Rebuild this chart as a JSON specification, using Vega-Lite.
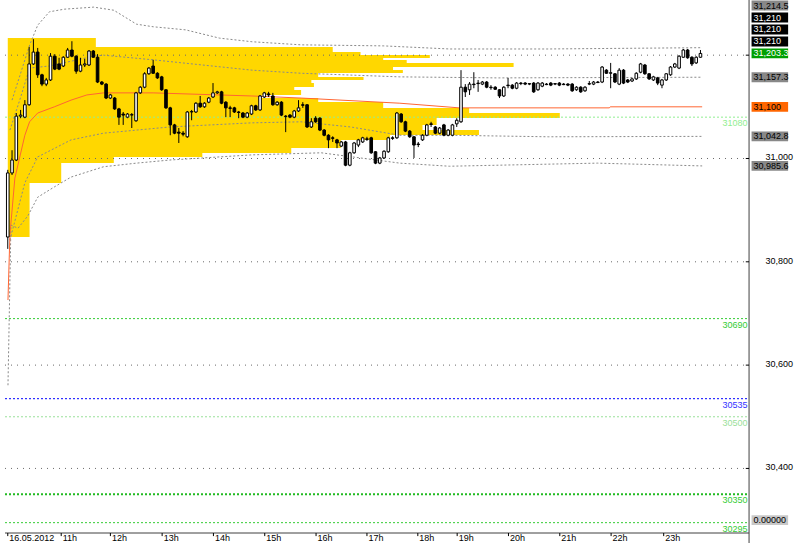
{
"$schema": "https://vega.github.io/schema/vega-lite/v6.json",
"width": 800, "height": 533,
"autosize": {"type": "none"},
"padding": {"left": 0, "top": 0, "right": 0, "bottom": 10},
"background": "#ffffff",
"config": {"view": {"stroke": null}, "text": {"font": "Liberation Sans"}},
"datasets": {
"profile": [
{"hi":31233.2,"lo":31215.8,"vol":20.6},{"hi":31215.8,"lo":31206.1,"vol":76.0},{"hi":31206.1,"lo":31200.3,"vol":82.5},
{"hi":31200.3,"lo":31194.5,"vol":98.7},{"hi":31194.5,"lo":31190.6,"vol":87.8},{"hi":31190.6,"lo":31184.8,"vol":93.3},
{"hi":31184.8,"lo":31177.1,"vol":118.3},{"hi":31177.1,"lo":31171.3,"vol":90.1},{"hi":31171.3,"lo":31165.5,"vol":92.4},
{"hi":31165.5,"lo":31157.7,"vol":72.6},{"hi":31157.7,"lo":31151.9,"vol":83.2},{"hi":31151.9,"lo":31146.1,"vol":71.0},
{"hi":31146.1,"lo":31138.4,"vol":71.6},{"hi":31138.4,"lo":31132.6,"vol":67.0},{"hi":31132.6,"lo":31122.9,"vol":68.6},
{"hi":31122.9,"lo":31117.1,"vol":59.4},{"hi":31117.1,"lo":31109.3,"vol":72.6},{"hi":31109.3,"lo":31097.7,"vol":87.8},
{"hi":31097.7,"lo":31088.0,"vol":107.9},{"hi":31088.0,"lo":31078.4,"vol":129.1},{"hi":31078.4,"lo":31064.8,"vol":100.3},
{"hi":31064.8,"lo":31055.1,"vol":97.0},{"hi":31055.1,"lo":31045.4,"vol":110.2},{"hi":31045.4,"lo":31035.8,"vol":89.4},
{"hi":31035.8,"lo":31020.3,"vol":77.9},{"hi":31020.3,"lo":31010.6,"vol":66.3},{"hi":31010.6,"lo":31002.9,"vol":45.5},
{"hi":31002.9,"lo":30991.2,"vol":24.8},{"hi":30991.2,"lo":30952.5,"vol":12.5},{"hi":30952.5,"lo":30848.0,"vol":5.1}
],
"grid": [{"v":31200},{"v":31000},{"v":30800},{"v":30600},{"v":30400}],
"levels": [{"name":"31080","v":31080},{"name":"30690","v":30690},{"name":"30535","v":30535},{"name":"30500","v":30500},{"name":"30350","v":30350},{"name":"30295","v":30295}],
"xticks": [{"k":0,"label":"16.05.2012"},{"k":12.5,"label":"11h"},{"k":24,"label":"12h"},{"k":36.1,"label":"13h"},{"k":48.1,"label":"14h"},{"k":60.1,"label":"15h"},{"k":72.1,"label":"16h"},{"k":84,"label":"17h"},{"k":95.9,"label":"18h"},{"k":105.1,"label":"19h"},{"k":117.1,"label":"20h"},{"k":129.1,"label":"21h"},{"k":141.1,"label":"22h"},{"k":153.4,"label":"23h"}],
"bands": [
{"band":"uo","k":1,"p":31113},{"band":"uo","k":5.13,"p":31220},{"band":"uo","k":7,"p":31258},{"band":"uo","k":9.75,"p":31284},{"band":"uo","k":13.2,"p":31289},{"band":"uo","k":20.1,"p":31293},{"band":"uo","k":24.8,"p":31287},{"band":"uo","k":30.1,"p":31260},{"band":"uo","k":34,"p":31255},{"band":"uo","k":41.6,"p":31249},{"band":"uo","k":49.5,"p":31233},{"band":"uo","k":57.1,"p":31226},{"band":"uo","k":68.6,"p":31220},{"band":"uo","k":87.8,"p":31218},{"band":"uo","k":103.3,"p":31212},{"band":"uo","k":126.4,"p":31212},{"band":"uo","k":162.4,"p":31214.5},
{"band":"ui","k":0.5,"p":31055},{"band":"ui","k":2.8,"p":31113},{"band":"ui","k":5.1,"p":31175},{"band":"ui","k":9.7,"p":31179},{"band":"ui","k":20.1,"p":31198},{"band":"ui","k":22.4,"p":31200},{"band":"ui","k":34,"p":31191},{"band":"ui","k":45.5,"p":31181},{"band":"ui","k":57.1,"p":31171},{"band":"ui","k":68.6,"p":31165},{"band":"ui","k":91.7,"p":31158},{"band":"ui","k":114.8,"p":31156},{"band":"ui","k":162.4,"p":31157.3},
{"band":"li","k":0.5,"p":30842},{"band":"li","k":4,"p":30953},{"band":"li","k":7,"p":31003},{"band":"li","k":14.8,"p":31036},{"band":"li","k":22.4,"p":31049},{"band":"li","k":37.9,"p":31061},{"band":"li","k":57.1,"p":31069},{"band":"li","k":68.6,"p":31071},{"band":"li","k":80.2,"p":31061},{"band":"li","k":91.7,"p":31045},{"band":"li","k":103.3,"p":31045},{"band":"li","k":126.4,"p":31042},{"band":"li","k":162.4,"p":31042.8},
{"band":"lo","k":0.05,"p":30561},{"band":"lo","k":0.74,"p":30871},{"band":"lo","k":2.4,"p":30865},{"band":"lo","k":4.7,"p":30889},{"band":"lo","k":7,"p":30925},{"band":"lo","k":10.9,"p":30945},{"band":"lo","k":14.8,"p":30964},{"band":"lo","k":22.4,"p":30984},{"band":"lo","k":30.1,"p":30991},{"band":"lo","k":37.9,"p":30997},{"band":"lo","k":57.1,"p":31007},{"band":"lo","k":73.3,"p":31011},{"band":"lo","k":82.5,"p":31001},{"band":"lo","k":91.7,"p":30991},{"band":"lo","k":103.3,"p":30985},{"band":"lo","k":114.8,"p":30987},{"band":"lo","k":137.9,"p":30991},{"band":"lo","k":162.4,"p":30985.6}
],
"mid": [
{"k":0.05,"p":30726},{"k":0.5,"p":30852},{"k":1.66,"p":30962},{"k":4,"p":31045},{"k":5.1,"p":31071},{"k":7,"p":31088},{"k":10.9,"p":31100},{"k":14.8,"p":31113},{"k":18.5,"p":31123},{"k":22.4,"p":31127},{"k":34,"p":31127},{"k":57.1,"p":31121},{"k":68.6,"p":31117},{"k":91.7,"p":31107},{"k":105.6,"p":31098},{"k":140.7,"p":31098},{"k":140.9,"p":31100},{"k":162.4,"p":31100}
],
"tags": [
{"label":"31,214.5","value":31214.5,"kind":"band","slot":4},
{"label":"31,210","value":31210,"kind":"level","slot":3},
{"label":"31,210","value":31210,"kind":"level","slot":2},
{"label":"31,210","value":31210,"kind":"level","slot":1},
{"label":"31,203.3","value":31203.3,"kind":"last","slot":0},
{"label":"31,157.3","value":31157.3,"kind":"band","slot":0},
{"label":"31,100","value":31100,"kind":"mid","slot":0},
{"label":"31,042.8","value":31042.8,"kind":"band","slot":0},
{"label":"30,985.6","value":30985.6,"kind":"band","slot":0},
{"label":"0.00000","value":0,"kind":"ind","slot":-1}
],
"candles": [
{"k":0,"o":30848,"h":30978,"l":30825,"c":30972},
{"k":1,"o":30972,"h":31016,"l":30968,"c":30997},
{"k":2,"o":30997,"h":31088,"l":30995,"c":31082},
{"k":3,"o":31082,"h":31094,"l":31078,"c":31084},
{"k":4,"o":31080,"h":31113,"l":31078,"c":31104},
{"k":5,"o":31104,"h":31216,"l":31102,"c":31183},
{"k":6,"o":31183,"h":31231,"l":31181,"c":31206},
{"k":7,"o":31206,"h":31214,"l":31156,"c":31162},
{"k":8,"o":31162,"h":31164,"l":31140,"c":31144},
{"k":9,"o":31144,"h":31156,"l":31140,"c":31152},
{"k":10,"o":31152,"h":31204,"l":31150,"c":31198},
{"k":11,"o":31198,"h":31202,"l":31171,"c":31173},
{"k":12,"o":31183,"h":31195,"l":31171,"c":31173},
{"k":13,"o":31179,"h":31198,"l":31177,"c":31196},
{"k":14,"o":31196,"h":31214,"l":31195,"c":31210},
{"k":15,"o":31210,"h":31227,"l":31196,"c":31198},
{"k":16,"o":31198,"h":31200,"l":31164,"c":31169},
{"k":17,"o":31169,"h":31195,"l":31167,"c":31181},
{"k":18,"o":31181,"h":31193,"l":31177,"c":31183},
{"k":19,"o":31181,"h":31210,"l":31179,"c":31208},
{"k":20,"o":31208,"h":31210,"l":31195,"c":31196},
{"k":21,"o":31196,"h":31202,"l":31146,"c":31148},
{"k":22,"o":31148,"h":31150,"l":31142,"c":31144},
{"k":23,"o":31144,"h":31146,"l":31115,"c":31117},
{"k":24,"o":31117,"h":31125,"l":31115,"c":31123},
{"k":25,"o":31117,"h":31119,"l":31094,"c":31096},
{"k":26,"o":31096,"h":31098,"l":31065,"c":31080},
{"k":27,"o":31086,"h":31090,"l":31065,"c":31084},
{"k":28,"o":31080,"h":31088,"l":31078,"c":31086},
{"k":29,"o":31084,"h":31088,"l":31059,"c":31085},
{"k":30,"o":31073,"h":31129,"l":31071,"c":31127},
{"k":31,"o":31127,"h":31140,"l":31125,"c":31138},
{"k":32,"o":31138,"h":31167,"l":31136,"c":31164},
{"k":33,"o":31164,"h":31177,"l":31162,"c":31175},
{"k":34,"o":31179,"h":31191,"l":31164,"c":31165},
{"k":35,"o":31165,"h":31167,"l":31154,"c":31156},
{"k":36,"o":31158,"h":31160,"l":31131,"c":31133},
{"k":37,"o":31133,"h":31134,"l":31096,"c":31098},
{"k":38,"o":31098,"h":31100,"l":31045,"c":31065},
{"k":39,"o":31065,"h":31067,"l":31047,"c":31049},
{"k":40,"o":31051,"h":31059,"l":31030,"c":31049},
{"k":41,"o":31049,"h":31053,"l":31043,"c":31047},
{"k":42,"o":31042,"h":31092,"l":31040,"c":31090},
{"k":43,"o":31090,"h":31094,"l":31074,"c":31091},
{"k":44,"o":31090,"h":31109,"l":31088,"c":31107},
{"k":45,"o":31107,"h":31121,"l":31098,"c":31100},
{"k":46,"o":31100,"h":31109,"l":31098,"c":31107},
{"k":47,"o":31109,"h":31119,"l":31107,"c":31117},
{"k":48,"o":31119,"h":31146,"l":31117,"c":31127},
{"k":49,"o":31127,"h":31131,"l":31125,"c":31129},
{"k":50,"o":31129,"h":31131,"l":31105,"c":31107},
{"k":51,"o":31109,"h":31111,"l":31080,"c":31098},
{"k":52,"o":31098,"h":31102,"l":31080,"c":31097},
{"k":53,"o":31098,"h":31100,"l":31088,"c":31090},
{"k":54,"o":31090,"h":31092,"l":31078,"c":31089},
{"k":55,"o":31088,"h":31090,"l":31078,"c":31080},
{"k":56,"o":31080,"h":31090,"l":31078,"c":31088},
{"k":57,"o":31086,"h":31104,"l":31084,"c":31102},
{"k":58,"o":31102,"h":31104,"l":31092,"c":31094},
{"k":59,"o":31094,"h":31123,"l":31092,"c":31121},
{"k":60,"o":31119,"h":31129,"l":31117,"c":31127},
{"k":61,"o":31125,"h":31129,"l":31119,"c":31123},
{"k":62,"o":31121,"h":31127,"l":31102,"c":31104},
{"k":63,"o":31104,"h":31111,"l":31102,"c":31109},
{"k":64,"o":31109,"h":31111,"l":31082,"c":31084},
{"k":65,"o":31082,"h":31084,"l":31051,"c":31081},
{"k":66,"o":31084,"h":31086,"l":31078,"c":31080},
{"k":67,"o":31080,"h":31094,"l":31078,"c":31092},
{"k":68,"o":31092,"h":31113,"l":31090,"c":31098},
{"k":69,"o":31104,"h":31109,"l":31098,"c":31103},
{"k":70,"o":31104,"h":31105,"l":31059,"c":31061},
{"k":71,"o":31061,"h":31078,"l":31059,"c":31071},
{"k":72,"o":31078,"h":31082,"l":31069,"c":31071},
{"k":73,"o":31078,"h":31080,"l":31053,"c":31055},
{"k":74,"o":31055,"h":31057,"l":31043,"c":31045},
{"k":75,"o":31045,"h":31047,"l":31020,"c":31036},
{"k":76,"o":31040,"h":31043,"l":31032,"c":31039},
{"k":77,"o":31036,"h":31038,"l":31020,"c":31030},
{"k":78,"o":31024,"h":31034,"l":31022,"c":31032},
{"k":79,"o":31032,"h":31034,"l":30985,"c":30987},
{"k":80,"o":30987,"h":31013,"l":30985,"c":31011},
{"k":81,"o":31011,"h":31032,"l":31009,"c":31030},
{"k":82,"o":31026,"h":31038,"l":31022,"c":31036},
{"k":83,"o":31032,"h":31042,"l":31030,"c":31040},
{"k":84,"o":31038,"h":31042,"l":31034,"c":31037},
{"k":85,"o":31040,"h":31042,"l":31009,"c":31011},
{"k":86,"o":31013,"h":31014,"l":30989,"c":30991},
{"k":87,"o":30991,"h":31003,"l":30989,"c":31001},
{"k":88,"o":31001,"h":31016,"l":30999,"c":31014},
{"k":89,"o":31013,"h":31042,"l":31011,"c":31040},
{"k":90,"o":31040,"h":31043,"l":31036,"c":31039},
{"k":91,"o":31040,"h":31090,"l":31038,"c":31088},
{"k":92,"o":31086,"h":31088,"l":31069,"c":31071},
{"k":93,"o":31071,"h":31073,"l":31051,"c":31053},
{"k":94,"o":31053,"h":31055,"l":31040,"c":31042},
{"k":95,"o":31042,"h":31043,"l":31001,"c":31026},
{"k":96,"o":31028,"h":31032,"l":31022,"c":31027},
{"k":97,"o":31036,"h":31047,"l":31034,"c":31045},
{"k":98,"o":31045,"h":31067,"l":31043,"c":31065},
{"k":99,"o":31067,"h":31071,"l":31061,"c":31066},
{"k":100,"o":31061,"h":31063,"l":31047,"c":31049},
{"k":101,"o":31049,"h":31061,"l":31047,"c":31059},
{"k":102,"o":31065,"h":31067,"l":31043,"c":31045},
{"k":103,"o":31045,"h":31057,"l":31043,"c":31055},
{"k":104,"o":31045,"h":31067,"l":31043,"c":31065},
{"k":105,"o":31067,"h":31078,"l":31061,"c":31074},
{"k":106,"o":31071,"h":31171,"l":31069,"c":31138},
{"k":107,"o":31138,"h":31144,"l":31119,"c":31129},
{"k":108,"o":31133,"h":31148,"l":31123,"c":31144},
{"k":109,"o":31144,"h":31167,"l":31136,"c":31143},
{"k":110,"o":31146,"h":31152,"l":31129,"c":31145},
{"k":111,"o":31144,"h":31150,"l":31142,"c":31148},
{"k":112,"o":31148,"h":31150,"l":31136,"c":31138},
{"k":113,"o":31138,"h":31142,"l":31133,"c":31137},
{"k":114,"o":31138,"h":31140,"l":31133,"c":31134},
{"k":115,"o":31133,"h":31134,"l":31117,"c":31121},
{"k":116,"o":31121,"h":31140,"l":31119,"c":31138},
{"k":117,"o":31142,"h":31156,"l":31136,"c":31141},
{"k":118,"o":31142,"h":31144,"l":31134,"c":31136},
{"k":119,"o":31136,"h":31148,"l":31134,"c":31146},
{"k":120,"o":31146,"h":31148,"l":31142,"c":31145},
{"k":121,"o":31146,"h":31148,"l":31142,"c":31144},
{"k":122,"o":31144,"h":31146,"l":31142,"c":31145},
{"k":123,"o":31146,"h":31148,"l":31127,"c":31129},
{"k":124,"o":31133,"h":31148,"l":31131,"c":31146},
{"k":125,"o":31140,"h":31148,"l":31138,"c":31146},
{"k":126,"o":31144,"h":31146,"l":31142,"c":31143},
{"k":127,"o":31146,"h":31148,"l":31140,"c":31142},
{"k":128,"o":31144,"h":31146,"l":31142,"c":31145},
{"k":129,"o":31146,"h":31148,"l":31140,"c":31142},
{"k":130,"o":31144,"h":31146,"l":31142,"c":31143},
{"k":131,"o":31144,"h":31146,"l":31140,"c":31142},
{"k":132,"o":31144,"h":31146,"l":31129,"c":31131},
{"k":133,"o":31133,"h":31140,"l":31131,"c":31138},
{"k":134,"o":31138,"h":31140,"l":31127,"c":31129},
{"k":135,"o":31131,"h":31140,"l":31129,"c":31138},
{"k":136,"o":31144,"h":31150,"l":31142,"c":31145},
{"k":137,"o":31144,"h":31150,"l":31142,"c":31148},
{"k":138,"o":31148,"h":31150,"l":31146,"c":31147},
{"k":139,"o":31148,"h":31179,"l":31146,"c":31177},
{"k":140,"o":31171,"h":31173,"l":31164,"c":31165},
{"k":141,"o":31165,"h":31185,"l":31136,"c":31166},
{"k":142,"o":31164,"h":31165,"l":31146,"c":31148},
{"k":143,"o":31144,"h":31175,"l":31142,"c":31171},
{"k":144,"o":31171,"h":31173,"l":31144,"c":31146},
{"k":145,"o":31152,"h":31154,"l":31146,"c":31148},
{"k":146,"o":31150,"h":31156,"l":31148,"c":31154},
{"k":147,"o":31154,"h":31167,"l":31152,"c":31165},
{"k":148,"o":31167,"h":31185,"l":31165,"c":31183},
{"k":149,"o":31181,"h":31183,"l":31162,"c":31164},
{"k":150,"o":31164,"h":31165,"l":31152,"c":31154},
{"k":151,"o":31152,"h":31160,"l":31150,"c":31158},
{"k":152,"o":31156,"h":31158,"l":31142,"c":31146},
{"k":153,"o":31142,"h":31154,"l":31136,"c":31152},
{"k":154,"o":31152,"h":31165,"l":31150,"c":31164},
{"k":155,"o":31162,"h":31179,"l":31160,"c":31177},
{"k":156,"o":31177,"h":31185,"l":31175,"c":31183},
{"k":157,"o":31175,"h":31200,"l":31173,"c":31198},
{"k":158,"o":31196,"h":31212,"l":31195,"c":31210},
{"k":159,"o":31210,"h":31212,"l":31193,"c":31195},
{"k":160,"o":31196,"h":31198,"l":31179,"c":31183},
{"k":161,"o":31185,"h":31198,"l":31183,"c":31196},
{"k":162,"o":31196,"h":31210,"l":31195,"c":31203.3}
]
},
"layer": [
{"data": {"name": "profile"}, "mark": {"type": "rect", "color": "#FFD700"},
 "encoding": {
  "x": {"field": "vol", "type": "quantitative", "scale": {"domain": [-0.647, 184.11], "nice": false, "zero": false}, "axis": null},
  "x2": {"datum": 0},
  "y": {"field": "hi", "type": "quantitative", "scale": {"domain": [30275, 31306.8], "nice": false, "zero": false}, "axis": null},
  "y2": {"field": "lo"}}},
{"data": {"name": "grid"}, "mark": {"type": "rule", "color": "#6a6a6a", "strokeDash": [1, 5]},
 "encoding": {"y": {"field": "v", "type": "quantitative", "axis": null}, "x": {"datum": -0.647, "type": "quantitative", "axis": null}, "x2": {"datum": 173.37}}},
{"data": {"name": "levels"}, "mark": {"type": "rule", "strokeDash": [2, 2]},
 "encoding": {"y": {"field": "v", "type": "quantitative", "axis": null}, "x": {"datum": -0.647, "type": "quantitative", "axis": null}, "x2": {"datum": 173.37},
  "stroke": {"condition": [{"test": "datum.name == '31080'", "value": "#90ee90"}, {"test": "datum.name == '30535'", "value": "#0000ff"}, {"test": "datum.name == '30500'", "value": "#99e099"}, {"test": "datum.name == '30350'", "value": "#22bb22"}], "value": "#33cc33"},
  "strokeWidth": {"condition": {"test": "datum.name == '30350'", "value": 2}, "value": 1}}},
{"data": {"name": "bands"}, "mark": {"type": "line", "color": "#8a8a8a", "strokeDash": [2, 2], "strokeWidth": 1},
 "encoding": {"x": {"field": "k", "type": "quantitative", "axis": null}, "y": {"field": "p", "type": "quantitative", "axis": null}, "detail": {"field": "band", "type": "nominal"}}},
{"data": {"name": "mid"}, "mark": {"type": "line", "color": "#ff6633", "strokeWidth": 1},
 "encoding": {"x": {"field": "k", "type": "quantitative", "axis": null}, "y": {"field": "p", "type": "quantitative", "axis": null}}},
{"data": {"name": "candles"}, "mark": {"type": "rule", "color": "#000000", "strokeWidth": 1},
 "encoding": {"x": {"field": "k", "type": "quantitative", "axis": null}, "y": {"field": "l", "type": "quantitative", "axis": null}, "y2": {"field": "h"}}},
{"data": {"name": "candles"}, "mark": {"type": "bar", "width": 2.6, "stroke": "#000000", "strokeWidth": 1},
 "encoding": {
  "x": {"field": "k", "type": "quantitative", "axis": null},
  "y": {"field": "o", "type": "quantitative", "axis": null}, "y2": {"field": "c"},
  "fill": {"condition": {"test": "datum.c < datum.o", "value": "#000000"}, "value": "#ffffff"}}},
{"data": {"values": [{}]}, "mark": {"type": "rule", "color": "#808080", "strokeWidth": 1.5},
 "encoding": {"x": {"datum": 173.37, "type": "quantitative", "axis": null}, "y": {"datum": 30255, "type": "quantitative", "axis": null}, "y2": {"datum": 31306.8}}},
{"data": {"values": [{}]}, "mark": {"type": "rule", "color": "#404040", "strokeWidth": 1},
 "encoding": {"x": {"datum": -0.647, "type": "quantitative", "axis": null}, "x2": {"datum": 173.37}, "y": {"datum": 30275, "type": "quantitative", "axis": null}}},
{"data": {"name": "xticks"}, "mark": {"type": "rule", "color": "#000000", "strokeWidth": 1},
 "encoding": {"x": {"field": "k", "type": "quantitative", "axis": null}, "y": {"datum": 30275, "type": "quantitative", "axis": null}, "y2": {"datum": 30269}}},
{"data": {"name": "xticks"}, "mark": {"type": "text", "align": "left", "baseline": "top", "dx": 1.5, "dy": 1, "fontSize": 9, "color": "#000000"},
 "encoding": {"x": {"field": "k", "type": "quantitative", "axis": null}, "y": {"datum": 30275, "type": "quantitative", "axis": null}, "text": {"field": "label", "type": "nominal"}}},
{"data": {"name": "grid"}, "mark": {"type": "rule", "color": "#000000"},
 "encoding": {"y": {"field": "v", "type": "quantitative", "axis": null}, "x": {"datum": 172.6, "type": "quantitative", "axis": null}, "x2": {"datum": 173.37}}},
{"data": {"name": "grid"}, "transform": [{"filter": "datum.v != 31200"}], "mark": {"type": "text", "align": "right", "baseline": "middle", "dy": -1, "fontSize": 9, "color": "#000000"},
 "encoding": {"y": {"field": "v", "type": "quantitative", "axis": null}, "x": {"datum": 183.65, "type": "quantitative", "axis": null}, "text": {"field": "v", "type": "quantitative", "format": ","}}},
{"data": {"name": "levels"}, "mark": {"type": "text", "align": "right", "baseline": "top", "dy": 2, "fontSize": 9},
 "encoding": {"y": {"field": "v", "type": "quantitative", "axis": null}, "x": {"datum": 173.0, "type": "quantitative", "axis": null}, "text": {"field": "name", "type": "nominal"},
  "fill": {"condition": [{"test": "datum.name == '31080'", "value": "#90ee90"}, {"test": "datum.name == '30535'", "value": "#3333ff"}, {"test": "datum.name == '30500'", "value": "#99e099"}], "value": "#33cc33"}}},
{"data": {"name": "tags"},
 "transform": [
  {"calculate": "datum.slot > 0 ? 31203.3 + 23.2 * datum.slot : (datum.slot < 0 ? 30300 : datum.value)", "as": "at"},
  {"calculate": "datum.at - 9.5", "as": "lo"},
  {"calculate": "datum.at + 9.5", "as": "hi"}],
 "mark": {"type": "rect"},
 "encoding": {"x": {"datum": 173.95, "type": "quantitative", "axis": null}, "x2": {"datum": 182.5}, "y": {"field": "lo", "type": "quantitative", "axis": null}, "y2": {"field": "hi"},
    "fill": {"condition": [{"test": "datum.kind == 'level'", "value": "#000000"}, {"test": "datum.kind == 'last'", "value": "#00a000"}, {"test": "datum.kind == 'mid'", "value": "#ff6600"}, {"test": "datum.kind == 'ind'", "value": "#c8c8c8"}], "value": "#888888"}}},
{"data": {"name": "tags"},
 "transform": [
  {"calculate": "datum.slot > 0 ? 31203.3 + 23.2 * datum.slot : (datum.slot < 0 ? 30300 : datum.value)", "as": "at"}],
 "mark": {"type": "text", "align": "left", "baseline": "middle", "fontSize": 9},
 "encoding": {"x": {"datum": 174.4, "type": "quantitative", "axis": null}, "y": {"field": "at", "type": "quantitative", "axis": null}, "text": {"field": "label", "type": "nominal"},
    "fill": {"condition": {"test": "datum.kind == 'level' || datum.kind == 'last'", "value": "#ffffff"}, "value": "#000000"}}}
]
}
